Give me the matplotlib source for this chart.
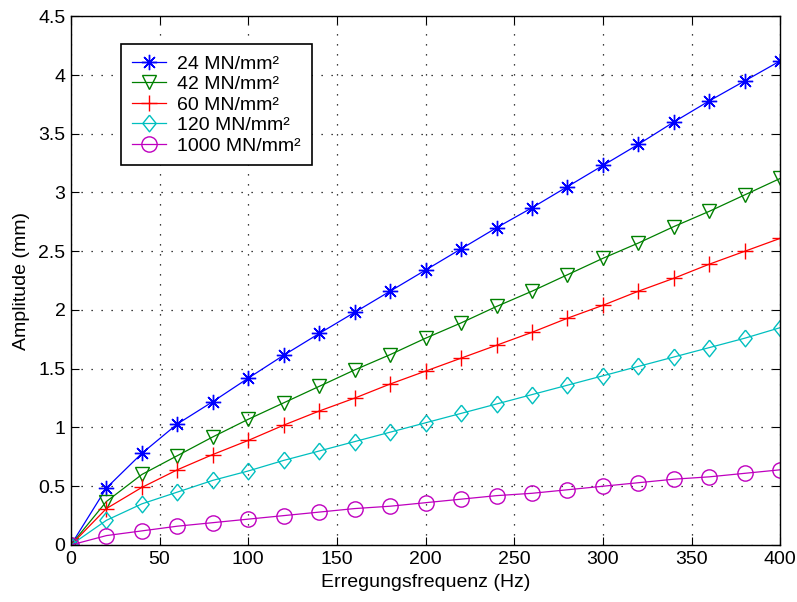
import matplotlib
matplotlib.use("Agg")
import matplotlib.pyplot as plt

plt.rcParams['font.family'] = ['Liberation Sans', 'DejaVu Sans']

freq = [0, 20, 40, 60, 80, 100, 120, 140, 160, 180, 200,
        220, 240, 260, 280, 300, 320, 340, 360, 380, 400]

amp_24 = [0, 0.485, 0.78, 1.03, 1.22, 1.42, 1.615, 1.80, 1.98, 2.16, 2.34,
          2.52, 2.70, 2.87, 3.05, 3.23, 3.41, 3.60, 3.78, 3.95, 4.12]
amp_42 = [0, 0.37, 0.60, 0.76, 0.92, 1.07, 1.21, 1.35, 1.49, 1.62, 1.76,
          1.89, 2.03, 2.16, 2.30, 2.44, 2.57, 2.71, 2.84, 2.98, 3.12]
amp_60 = [0, 0.31, 0.49, 0.64, 0.77, 0.89, 1.02, 1.14, 1.25, 1.37, 1.48,
          1.59, 1.70, 1.81, 1.93, 2.04, 2.16, 2.27, 2.39, 2.50, 2.61]
amp_120 = [0, 0.21, 0.35, 0.45, 0.55, 0.63, 0.72, 0.80, 0.88, 0.96, 1.04,
           1.12, 1.20, 1.28, 1.36, 1.44, 1.52, 1.60, 1.68, 1.76, 1.85]
amp_1000 = [0, 0.08, 0.12, 0.16, 0.19, 0.22, 0.25, 0.28, 0.31, 0.33, 0.36,
            0.39, 0.42, 0.44, 0.47, 0.50, 0.53, 0.56, 0.58, 0.61, 0.64]

labels = ['24 MN/mm²', '42 MN/mm²', '60 MN/mm²', '120 MN/mm²', '1000 MN/mm²']
xticks = [0, 50, 100, 150, 200, 250, 300, 350, 400]
yticks = [0, 0.5, 1, 1.5, 2, 2.5, 3, 3.5, 4, 4.5]
ytick_labels = ['0', '0.5', '1', '1.5', '2', '2.5', '3', '3.5', '4', '4.5']

fig = plt.figure(figsize=(7.97, 6.02), dpi=100)
ax = fig.add_axes([0.089, 0.0947, 0.890, 0.8783])

diamond = [(0, 1), (0.8, 0), (0, -1), (-0.8, 0), (0, 1)]
styles = [
    ('#0000ff', (8, 2, 0), 11),
    ('#008000', 'v', 10.5),
    ('#ff0000', '+', 11),
    ('#00bfbf', diamond, 12),
    ('#bf00bf', 'o', 11),
]
series = [amp_24, amp_42, amp_60, amp_120, amp_1000]
for vals, lab, (col, mk, ms) in zip(series, labels, styles):
    ax.plot(freq, vals, color=col, marker=mk, markersize=ms, lw=0.9,
            markerfacecolor='none', markeredgecolor=col, markeredgewidth=1.0,
            label=lab)

ax.set_xlim(0, 400)
ax.set_ylim(0, 4.5)
ax.set_xticks(xticks)
ax.set_yticks(yticks)
ax.set_yticklabels(ytick_labels)
ax.tick_params(direction='in', top=True, right=True, labelsize=14,
               length=6, width=0.8, pad=4)
ax.grid(True, color='black', linestyle=(0, (1, 7)), linewidth=0.9)
for sp in ax.spines.values():
    sp.set_linewidth(1.0)

ax.set_xlabel('Erregungsfrequenz (Hz)', fontsize=14, labelpad=5)
ax.set_ylabel('Amplitude (mm)', fontsize=14, labelpad=6)

leg = ax.legend(loc='upper left', bbox_to_anchor=(0.0705, 0.947), borderaxespad=0,
                fontsize=14, fancybox=False, framealpha=1, edgecolor='black',
                handlelength=1.75, handletextpad=0.6, borderpad=0.55,
                labelspacing=0.15)
leg.get_frame().set_linewidth(1.2)

fig.savefig('out.png', dpi=100)
